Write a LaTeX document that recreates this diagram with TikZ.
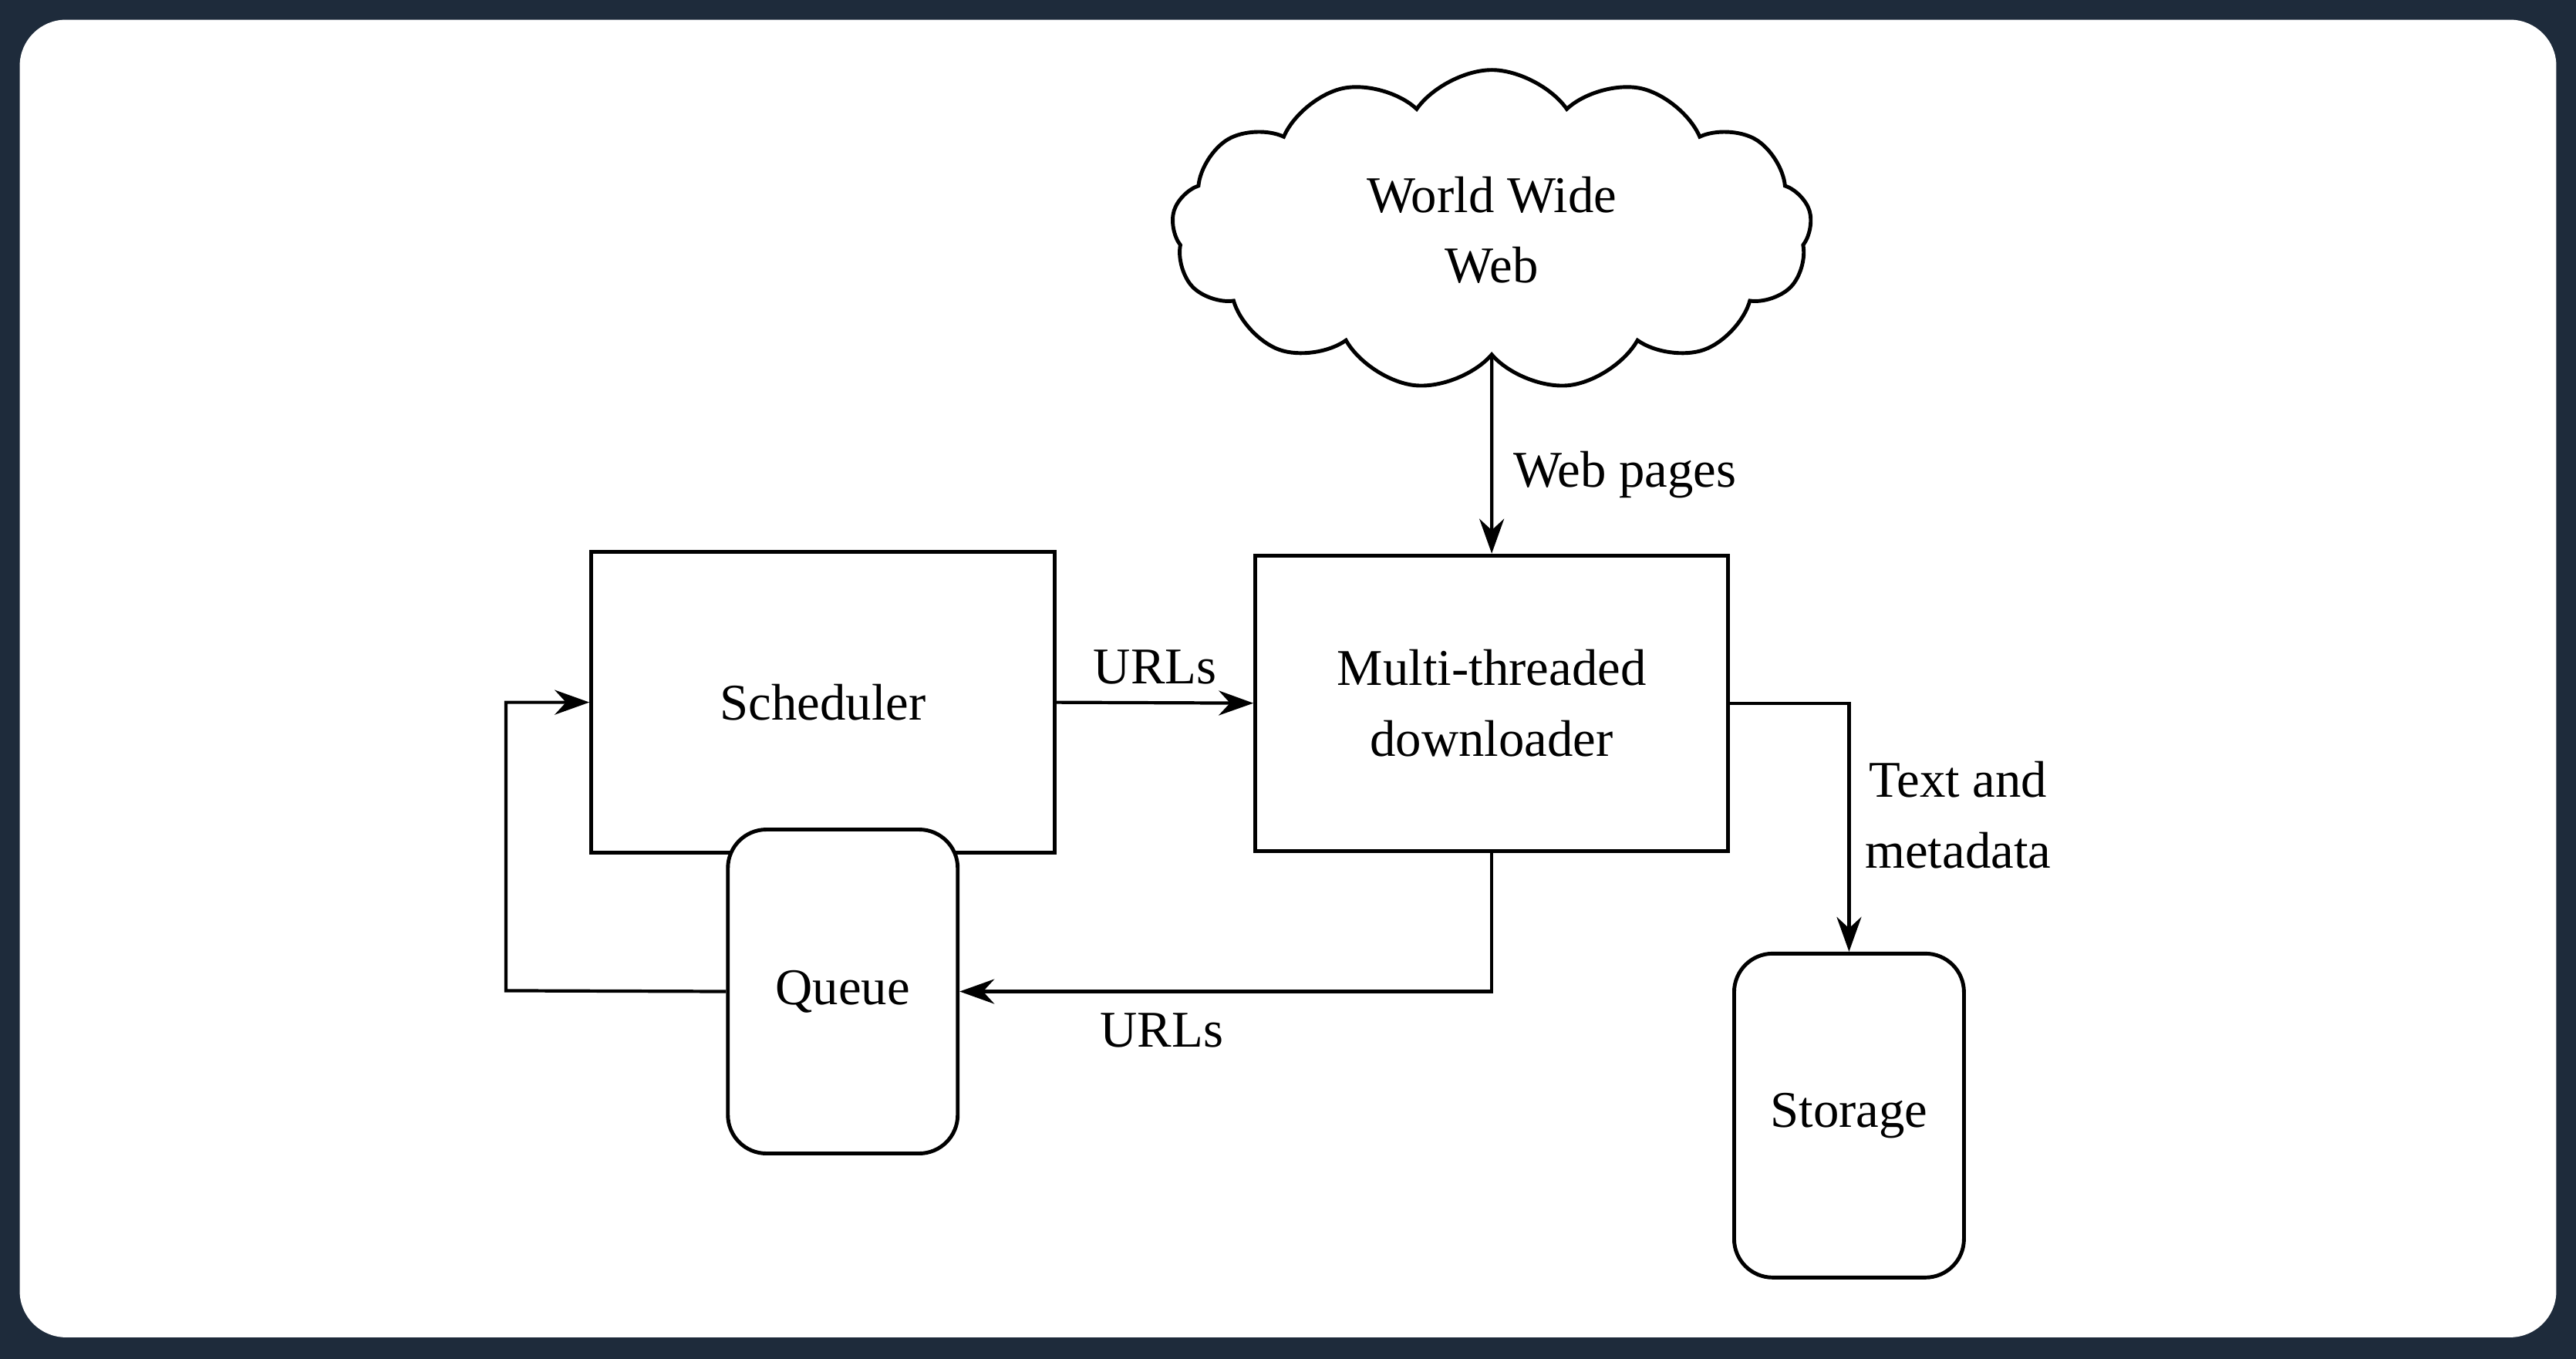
\documentclass[tikz,border=0pt]{standalone}
\usepackage{fontspec}
\setmainfont{Liberation Serif}
\usetikzlibrary{arrows.meta, positioning, shapes.symbols}
\definecolor{frame}{HTML}{1E2B3B}

\begin{document}
\begin{tikzpicture}[
    x=0.0213cm, y=-0.0213cm,
    every node/.style={align=center, font=\fontsize{19}{26}\selectfont},
    box/.style={draw, line width=1.4pt, fill=white},
    cell/.style={box, rounded corners=0.5cm, minimum width=2.98cm, minimum height=4.2cm},
    arrow/.style={-{Stealth[length=0.45cm, width=0.32cm]}, line width=1.2pt}
]

% Background
\fill[frame] (0,0) rectangle (1568,827);
\fill[white, rounded corners=0.6cm] (12,12) rectangle (1556,814);
\useasboundingbox (0,0) rectangle (1568,827);

% Nodes
\node[box, cloud, cloud puffs=13, cloud puff arc=110, aspect=2, minimum width=8.3cm, minimum height=4.15cm] (web) at (908,140) {World Wide\\Web};
\node[box, minimum width=6.01cm, minimum height=3.9cm] (scheduler) at (501,427.5) {Scheduler};
\node[box, minimum width=6.13cm, minimum height=3.83cm] (downloader) at (908,428) {Multi-threaded\\downloader};
\node[cell] (queue) at (513,603.5) {Queue};
\node[cell] (storage) at (1125.5,679) {Storage};
\coordinate (loop) at (308,603);
\coordinate (turn) at (1125.5,428);

% Arrows
\draw[arrow] (web.south) -- node[right, xshift=4pt, pos=0.6] {Web pages} (downloader.north);
\draw[arrow] (scheduler.east) -- node[above, yshift=3pt] {URLs} (downloader.west);
\draw[arrow] (downloader.south) |- node[pos=0.81, below, yshift=-4pt] {URLs} (queue.east);
\draw[arrow] (queue.west) -- (loop) |- (scheduler.west);
\draw[arrow] (downloader.east) -- (turn) -- node[right, xshift=2pt, pos=0.45] {Text and\\metadata} (storage.north);

\end{tikzpicture}
\end{document}
